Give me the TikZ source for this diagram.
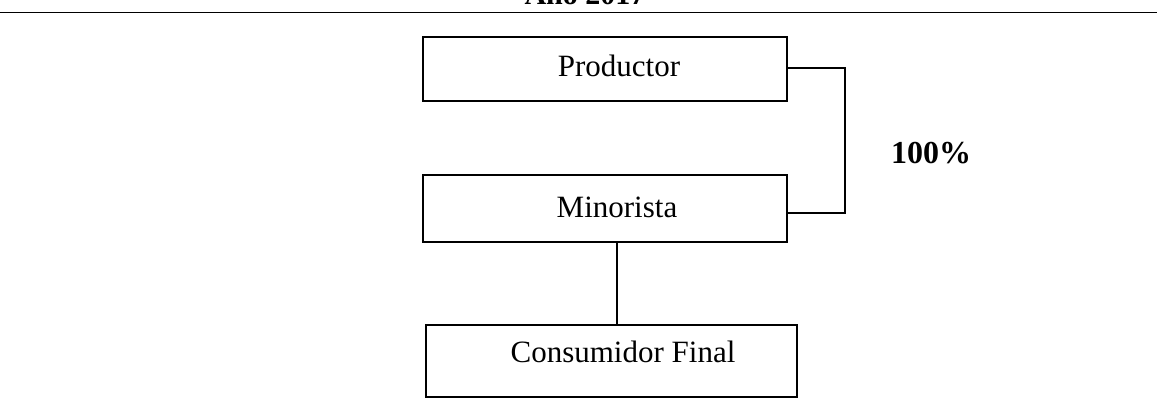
\documentclass[tikz,border=0pt]{standalone}
\usepackage{fontspec}
\setmainfont{Liberation Serif}
\begin{document}
\begin{tikzpicture}[x=1pt,y=-1pt,
  box/.style={draw,line width=1.6pt,inner sep=0pt},
  lbl/.style={anchor=base,font=\fontsize{31}{36}\selectfont,inner sep=0pt},
  conn/.style={line width=1.6pt}]
\useasboundingbox (0,0) rectangle (1157,404);
% title (cut off) and rule
\node[anchor=base,inner sep=0pt,font=\bfseries\fontsize{30}{34}\selectfont] (title) at (585,5) {Año 2017};
\coordinate (rl) at (0,12.5);
\coordinate (rr) at (1157,12.5);
\draw[line width=1.8pt] (rl) -- (rr);
% boxes
\node[box,minimum width=364pt,minimum height=64pt] (prod) at (605,69) {};
\node[box,minimum width=364pt,minimum height=67pt] (mino) at (605,208.5) {};
\node[box,minimum width=371pt,minimum height=72pt] (cons) at (611.5,361) {};
% labels
\node[lbl] (tprod) at (619,77) {Productor};
\node[lbl] (tmino) at (617,217) {Minorista};
\node[lbl] (tcons) at (623,362) {Consumidor Final};
\node[anchor=base,inner sep=0pt,font=\bfseries\fontsize{32}{36}\selectfont] (pct) at (931,163) {100\%};
% connectors
\coordinate (c1) at (845,68);
\coordinate (c2) at (845,213);
\draw[conn] (prod.east |- c1) -- (c1) -- (c2) -- (mino.east |- c2);
\coordinate (v) at (617,0);
\draw[conn] (mino.south -| v) -- (cons.north -| v);
\end{tikzpicture}
\end{document}
